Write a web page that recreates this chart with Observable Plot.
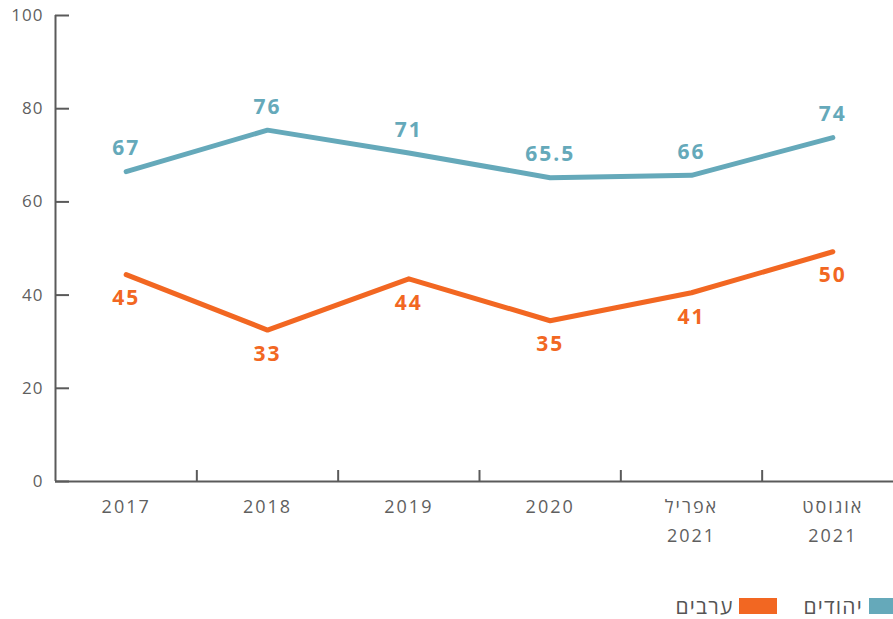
<!DOCTYPE html>
<html>
<head>
<meta charset="utf-8">
<script src="https://cdn.jsdelivr.net/npm/d3@7"></script>
<script src="https://cdn.jsdelivr.net/npm/@observablehq/plot@0.6"></script>
<style>
  html, body { margin: 0; padding: 0; background: #fff; overflow: hidden; }
  #wrap { position: relative; width: 893px; height: 619px; overflow: hidden; font-family: "Open Sans", "Noto Sans", sans-serif; }
  #legend { position: absolute; top: 592px; right: -14px; display: flex; flex-direction: row; direction: rtl; align-items: center; font-size: 21px; letter-spacing: 1.2px; color: #555; }
  .sw { width: 38px; height: 16px; display: inline-block; }
</style>
</head>
<body>
<div id="wrap">
  <div id="chart"></div>
  <div id="legend"></div>
</div>
<script>
const categories = ["2017", "2018", "2019", "2020", "אפריל\n2021", "אוגוסט\n2021"];
const jewsValues = [66.5, 75.4, 70.5, 65.2, 65.7, 73.8];
const arabsValues = [44.4, 32.5, 43.5, 34.5, 40.5, 49.3];
const jewsLabels = ["67", "76", "71", "65.5", "66", "74"];
const arabsLabels = ["45", "33", "44", "35", "41", "50"];
const yTicks = [0, 20, 40, 60, 80, 100];
const seriesNames = ["יהודים", "ערבים"];
const colors = ["#65a9ba", "#f26722"];

const idx = d3.range(categories.length);
const jews = idx.map(i => ({i, v: jewsValues[i], label: jewsLabels[i]}));
const arabs = idx.map(i => ({i, v: arabsValues[i], label: arabsLabels[i]}));
const xDomain = [-0.5, categories.length - 0.5];
const boundaries = d3.range(1, categories.length).map(i => i - 0.5);
const axisColor = "#5a5a5a";
const textColor = "#5f5f5f";

const chart = Plot.plot({
  width: 893,
  height: 565,
  marginTop: 15,
  marginBottom: 84,
  marginLeft: 55,
  marginRight: 0,
  style: {fontFamily: "'Open Sans', 'Noto Sans', sans-serif", background: "#fff"},
  x: {type: "linear", domain: xDomain, range: [55, 903], axis: null},
  y: {domain: [0, 100], axis: null},
  marks: [
    Plot.axisY({ticks: yTicks, label: null, tickSize: 14, dx: 14, stroke: axisColor, strokeWidth: 2, strokeOpacity: 1, tickFormat: () => ""}),
    Plot.axisY({ticks: yTicks, label: null, tickSize: 0, tickPadding: 12, fontSize: 17, fill: textColor}),
    Plot.axisX({ticks: boundaries, label: null, tickSize: 11, dy: -11, stroke: axisColor, strokeWidth: 2, strokeOpacity: 1, tickFormat: () => ""}),
    Plot.axisX({ticks: idx, label: null, tickSize: 0, tickPadding: 11, fontSize: 18, fill: textColor, lineHeight: 1.62, tickFormat: i => categories[i]}),
    Plot.ruleX([xDomain[0]], {y1: 0, y2: 100, stroke: axisColor, strokeWidth: 2}),
    Plot.ruleY([0], {stroke: axisColor, strokeWidth: 2}),
    Plot.line(jews, {x: "i", y: "v", stroke: colors[0], strokeWidth: 5}),
    Plot.line(arabs, {x: "i", y: "v", stroke: colors[1], strokeWidth: 5}),
    Plot.text(jews, {x: "i", y: "v", text: "label", dy: -23, fill: colors[0], fontWeight: "bold", fontSize: 21}),
    Plot.text(arabs, {x: "i", y: "v", text: "label", dy: 24, fill: colors[1], fontWeight: "bold", fontSize: 21})
  ]
});
const sel = d3.select(chart);
sel.selectAll('g[aria-label="x-axis tick label"]').attr("letter-spacing", "2px");
sel.selectAll('g[aria-label="y-axis tick label"]').attr("letter-spacing", "1px");
sel.selectAll('g[aria-label="text"]').attr("letter-spacing", "2px");
document.getElementById("chart").appendChild(chart);

const legend = document.getElementById("legend");
seriesNames.forEach((name, k) => {
  const sw = document.createElement("span");
  sw.className = "sw";
  sw.style.background = colors[k];
  sw.style.marginLeft = "6px";
  const t = document.createElement("span");
  t.textContent = name;
  if (k === 0) t.style.marginLeft = "26px";
  legend.appendChild(sw);
  legend.appendChild(t);
});
</script>
</body>
</html>
